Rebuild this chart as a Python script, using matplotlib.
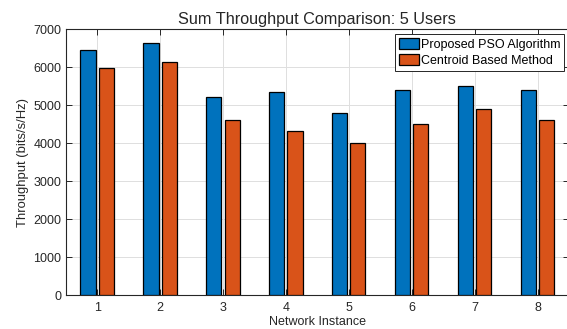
import numpy as np
import matplotlib.pyplot as plt

plt.rcParams['font.family'] = ['Liberation Sans', 'DejaVu Sans']

instances = [1, 2, 3, 4, 5, 6, 7, 8]
pso = [6450, 6640, 5210, 5340, 4810, 5390, 5510, 5390]
centroid = [5980, 6130, 4605, 4330, 3995, 4520, 4910, 4600]

blue = '#0072BD'
orange = '#D95319'
txt = '#262626'

fig = plt.figure(figsize=(5.67, 3.29), dpi=100)
ax = fig.add_axes([0.1159, 0.1024, 0.8876, 0.8086])

x = np.array(instances)
w = 0.24
ax.bar(x - 0.145, pso, w, color=blue, edgecolor='black', linewidth=0.9,
       label='Proposed PSO Algorithm', zorder=3)
ax.bar(x + 0.145, centroid, w, color=orange, edgecolor='black', linewidth=0.9,
       label='Centroid Based Method', zorder=3)

ax.set_xlim(0.5, 8.5)
ax.set_ylim(0, 7000)
ax.set_xticks(instances)
ax.set_yticks(range(0, 7001, 1000))
ax.grid(True, color='#dfdfdf', linewidth=0.7, zorder=0)
ax.tick_params(direction='in', top=True, right=True, length=4, width=0.7,
               labelsize=9, colors=txt)
ax.tick_params(axis='y', pad=3)
ax.tick_params(axis='x', pad=5)
for s in ax.spines.values():
    s.set_color(txt)
    s.set_linewidth(0.8)

ax.set_title('Sum Throughput Comparison: 5 Users', fontsize=11.7, color=txt, pad=4)
ax.set_xlabel('Network Instance', fontsize=9, color=txt, labelpad=1)
ax.set_ylabel('Throughput (bits/s/Hz)', fontsize=9.4, color=txt, labelpad=3)

leg = ax.legend(loc='upper right', bbox_to_anchor=(0.995, 0.99), fontsize=9,
                frameon=True, fancybox=False, borderpad=0.3, handlelength=1.6,
                handleheight=0.9, handletextpad=0.15, labelspacing=0.3,
                borderaxespad=0.2)
leg.get_frame().set_edgecolor(txt)
leg.get_frame().set_linewidth(0.7)
leg.get_frame().set_alpha(1)

fig.savefig('out.png', dpi=100)
